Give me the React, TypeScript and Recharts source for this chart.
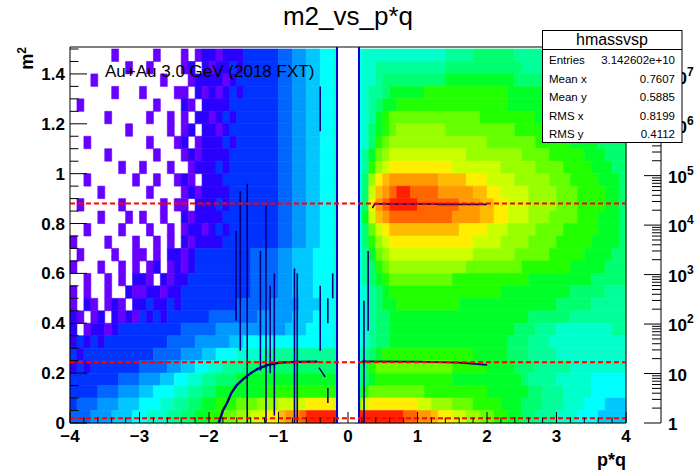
import { ComposedChart, XAxis, YAxis, ReferenceArea, ReferenceLine, Line } from "recharts";

const FONT = "'Liberation Sans', Arial, Helvetica, sans-serif";

const X_MIN = -4;
const X_MAX = 4;
const Y_MAX = 1.508;
const xBinWidth = 0.1;
const yBinWidth = 0.05;

// ROOT palette, 20 contours from low to high counts
const paletteColors = [
  "#6600ff", "#2a00ff", "#0033ff", "#0066ff", "#0099ff",
  "#00c8ff", "#00ffff", "#00ffcc", "#00ff99", "#00ff70",
  "#00ff28", "#22ff00", "#66ff00", "#99ff00", "#ccff00",
  "#ffee00", "#ffbb00", "#ff9900", "#ff6600", "#ff2200",
];
// contour edges (counts), log spaced
const zLevels = [
  1, 2.4, 5.75, 13.8, 33.1, 79.4, 190.5, 457, 1096, 2630, 6310,
  15140, 36310, 87100, 208900, 501200, 1202000, 2884000, 6918000, 16600000, 39810000,
];
const zDecades = [1, 10, 100, 1000, 10000, 100000, 1000000, 10000000];
const zTickLabels: [string, string][] = [
  ["1", ""], ["10", ""], ["10", "2"], ["10", "3"], ["10", "4"], ["10", "5"], ["10", "6"], ["10", "7"],
];

// contour index per bin (0.1 in p*q, 0.05 in m2), top row first
// '.' = empty, 0-9 then a-j = palette index
const binLevels = [
  "......0... ..0...0.01 1011122222 334455667. .677777777 7777888899 9999888888 8888888888",
  "........0. .0....01.1 0112122222 334455667. .677888888 8888999999 9999988888 8888888888",
  "...0...... ...0...011 1101222222 334455667. .677899999 9999aaaaaa aaaa999998 8888888888",
  "......0... 0....00.10 1012122222 334455667. .67889aaaa abbbbbbbbb bbbaaaaa99 9998888888",
  ".0........ ..0...10.1 1112222222 334455667. .6789aabbb bbbbbbbbbb bbbaaaaaa9 9999888888",
  ".....0.... .0..0.0.11 0121222222 334455667. .678abcccc cccccccccb bbbbbbbaaa aa99998888",
  "........0. ....0.01.1 1012222222 334455667. .679abcddd ddddcccccc ccccbbbbbb aaaa999988",
  "..0....... .0...01.01 1121222222 334455667. .679bcdddd dddddddddd cccccccbbb bbaaaa9999",
  ".....0.... ..0...0101 1112222222 334455667. .68acdeeee eeeeeeeddd dddddccccb bbbbaaa999",
  ".......0.. 0...0..011 1212222222 334455667. .68bdeffff fffffeeeee eedddddccc cbbbbaaa99",
  "..0......0 ..0..010.1 1122222222 334455667. .69dfghhhh hhhggggfff eeeedddddc ccbbbbaaa9",
  "....0..... .0....0101 1112222222 334455667. .69eghijji iiihhhhhgg ffeeeedddd cccbbbbaa9",
  ".0.....0.. ...0.00.11 1212222222 334455667. .69fhijjjj iiiiiihhhg gffeeedddd cccbbbbaa9",
  "....0...0. 0..0..1011 1122222222 334455667. .6aeghiiii iiiiihhhhg gffeeedddc cccbbbaaa9",
  "..0....0.. .0..0.0110 1212222222 334455667. .69cefgggg ggggggffff eeeddddccc cbbbbbaaa9",
  "0....0...0 ..0.0.1011 1122222222 334455667. .69bdeffff ffffffffee eeddddcccc bbbbbaaaa9",
  ".0....0..0 0.0.110122 2222223333 445556667. .68acdeeee eeeeeeeedd ddddcccccb bbbbaaaa99",
  "0...0..0.0 .01.010122 2222223333 445556667. .689bcdddd dddddddccc cccccbbbbb bbaaaaa999",
  "..0..0.0.1 10.1011222 2222223333 445556667. .689abcccc cccccbbbbb bbbbbbaaaa aaaaa99999",
  "0.0..0..10 0110112222 2222223333 445556667. .6789abbbb bbbbbbbbbb bbaaaaaaaa aa99999888",
  "0.10.010.1 1211212222 2222333334 444555667. .6789aabbb bbbbbbaaaa aaaaaaaaaa 9999988888",
  "10.01.1010 2121222222 3333333444 445556667. .67899aaaa aaaaaaaaaa aaaaaa9999 9988888888",
  "1.01101222 2222223333 3444444444 455566667. .67899aaaa aaaaaaaaaa aaaa999888 7777777788",
  "1212122222 2222333344 4445566666 666666667. .67899aaaa aaaaaaaaaa aaa9998887 7777777777",
  "2122222222 2233334445 5666777788 888888888. .789abbbbb bbbbbbbbaa aaa9998888 7777777777",
  "1212222222 3333445566 7788899999 999999999. .89bcccccc cccccbbbbb aaaa999888 8877777777",
  "2222222333 4445566778 8999aaaaaa aaaaaaaaa. .89abbbbbb bbbbbaaaaa aaaaa98888 7777766666",
  "2222333444 5566677889 9aaaaaaabb bbbbbbbbb. .9bccccccc cbbbbbbbbb aaaaaa9988 8777766666",
  "2333444555 666778899a abbbcccddd eeeeffffe. .cefffffff eedddcccbb bbaaa99988 8777666555",
  "3334445556 67778899aa bbccddeeff ghhijjjjj. .jjjjjjjii hhgffeeddc cbbaa99888 7776665555",
];

// no TOF coverage around p*q = 0
const emptyBand = [-0.155, 0.152];

// dark fit tracks drawn on the histogram: [p*q, m2 from, m2 to]
const navyTracks: [number, number, number][] = [
  [-1.61, 0.41, 0.77], [-1.55, 0.29, 0.93], [-1.45, 0.0, 0.96], [-1.26, 0.21, 0.69],
  [-1.18, 0.0, 0.87], [-1.12, 0.2, 0.55], [-1.06, 0.03, 0.6], [-0.77, 0.0, 0.62],
  [-0.73, 0.0, 0.6], [-0.4, 0.29, 0.55], [-0.4, 1.17, 1.35], [-0.29, 0.4, 0.5],
  [-0.29, 0.08, 0.14], [-0.22, 0.5, 0.6], [0.23, 0.0, 0.49], [0.29, 0.37, 0.69],
];
const gapEdges = [-0.158, 0.158];

const kaonLeft = [
  { x: -1.86, m2: 0.0 }, { x: -1.8, m2: 0.05 }, { x: -1.74, m2: 0.08 }, { x: -1.68, m2: 0.12 },
  { x: -1.6, m2: 0.152 }, { x: -1.5, m2: 0.178 }, { x: -1.4, m2: 0.2 }, { x: -1.3, m2: 0.217 },
  { x: -1.16, m2: 0.232 }, { x: -1.0, m2: 0.241 }, { x: -0.93, m2: 0.243 }, { x: -0.7, m2: 0.245 },
  { x: -0.44, m2: 0.246 },
];
const kaonArc = [{ x: -0.42, m2: 0.222 }, { x: -0.38, m2: 0.207 }, { x: -0.33, m2: 0.185 }];
const kaonRight = [{ x: 0.2, m2: 0.247 }, { x: 1.0, m2: 0.246 }, { x: 1.6, m2: 0.242 }, { x: 2.0, m2: 0.233 }];
const protonRight = [
  { x: 0.35, m2: 0.862 }, { x: 0.38, m2: 0.876 }, { x: 0.43, m2: 0.879 },
  { x: 1.25, m2: 0.879 }, { x: 1.3, m2: 0.877 }, { x: 2.0, m2: 0.877 },
];

// expected m2 of pi, K, p
const massLines = [0.0195, 0.2437, 0.8804];

const xMajorTicks = [-4, -3, -2, -1, 0, 1, 2, 3, 4];
const xTickLabels = ["\u22124", "\u22123", "\u22122", "\u22121", "0", "1", "2", "3", "4"];
const yMajorTicks = [0, 0.2, 0.4, 0.6, 0.8, 1, 1.2, 1.4];
const yTickLabels = ["0", "0.2", "0.4", "0.6", "0.8", "1", "1.2", "1.4"];

const statRows = [
  ["Entries", "3.142602e+10"],
  ["Mean x", "0.7607"],
  ["Mean y", "0.5885"],
  ["RMS x", "0.8199"],
  ["RMS y", "0.4112"],
];

const round3 = (v: number) => Math.round(v * 1000) / 1000;
const xTicks = Array.from({ length: 41 }, (_, k) => round3(X_MIN + k * 0.2));
const yTicks = Array.from({ length: 31 }, (_, k) => round3(k * 0.05));
const zTicks: number[] = [];
zDecades.forEach((d) => {
  for (let m = 1; m < 10; m++) if (d * m <= zLevels[zLevels.length - 1]) zTicks.push(d * m);
});

const LEVEL_CHARS = "0123456789abcdefghij";
type Cell = { x1: number; x2: number; y1: number; y2: number; color: string };
const cells: Cell[] = [];
binLevels.forEach((row, r) => {
  const s = row.replace(/ /g, "");
  const j = binLevels.length - 1 - r;
  const y1 = round3(j * yBinWidth);
  const y2 = Math.min(round3((j + 1) * yBinWidth), Y_MAX);
  let i = 0;
  while (i < s.length) {
    let k = i;
    while (k < s.length && s[k] === s[i]) k++;
    const lvl = LEVEL_CHARS.indexOf(s[i]);
    if (lvl >= 0) {
      cells.push({
        x1: round3(X_MIN + i * xBinWidth),
        x2: Math.min(round3(X_MIN + k * xBinWidth), X_MAX),
        y1,
        y2,
        color: paletteColors[lvl],
      });
    }
    i = k;
  }
});

const near = (a: number, b: number) => Math.abs(a - b) < 1e-6;

const XTick = ({ x, y, payload }: any) => {
  const idx = xMajorTicks.findIndex((t) => near(t, payload.value));
  return (
    <g>
      <line x1={x} x2={x} y1={y} y2={y - (idx >= 0 ? 11 : 5.5)} stroke="#000" strokeWidth={1} />
      {idx >= 0 && (
        <text x={x} y={y + 19} textAnchor="middle" fontFamily={FONT} fontWeight="bold" fontSize={17} fill="#000">
          {xTickLabels[idx]}
        </text>
      )}
    </g>
  );
};

const YTick = ({ x, y, payload }: any) => {
  const idx = yMajorTicks.findIndex((t) => near(t, payload.value));
  return (
    <g>
      <line x1={x} x2={x + (idx >= 0 ? 17 : 8.5)} y1={y} y2={y} stroke="#000" strokeWidth={1} />
      {idx >= 0 && (
        <text x={x - 5} y={y + 6} textAnchor="end" fontFamily={FONT} fontWeight="bold" fontSize={17} fill="#000">
          {yTickLabels[idx]}
        </text>
      )}
    </g>
  );
};

const ZTick = ({ x, y, payload }: any) => {
  const idx = zDecades.indexOf(payload.value);
  return (
    <g>
      <line x1={x} x2={x - (idx >= 0 ? 17 : 9)} y1={y} y2={y} stroke="#000" strokeWidth={1} />
      {idx >= 0 && (
        <text x={x + 7} y={y + 7} fontFamily={FONT} fontWeight="bold" fontSize={17} fill="#000">
          {zTickLabels[idx][0]}
          {zTickLabels[idx][1] && (
            <tspan dy={-8} fontSize={12}>
              {zTickLabels[idx][1]}
            </tspan>
          )}
        </text>
      )}
    </g>
  );
};

export default function App() {
  return (
    <div style={{ position: "absolute", left: 0, top: 0, width: 696, height: 472, background: "#fff" }}>
      <div style={{ position: "absolute", left: 0, top: 0 }}>
        <ComposedChart width={696} height={472} margin={{ top: 47, right: 70, bottom: 19, left: 0 }}>
          {cells.map((c, i) => (
            <ReferenceArea
              key={`cell-${i}`}
              x1={c.x1}
              x2={c.x2}
              y1={c.y1}
              y2={c.y2}
              fill={c.color}
              fillOpacity={1}
              stroke={c.color}
              strokeWidth={0.6}
              ifOverflow="visible"
            />
          ))}
          <ReferenceArea x1={emptyBand[0]} x2={emptyBand[1]} y1={0} y2={Y_MAX} fill="#fff" fillOpacity={1} ifOverflow="visible" />
          {gapEdges.map((g, i) => (
            <ReferenceLine key={`gap-${i}`} segment={[{ x: g, y: 0 }, { x: g, y: Y_MAX }]} stroke="#0000cc" strokeWidth={2} ifOverflow="visible" />
          ))}
          {navyTracks.map(([x, a, b], i) => (
            <ReferenceLine key={`trk-${i}`} segment={[{ x, y: a }, { x, y: b }]} stroke="#000080" strokeWidth={1.6} ifOverflow="visible" />
          ))}
          {[kaonLeft, kaonArc, kaonRight, protonRight].map((pts, i) => (
            <Line
              key={`fit-${i}`}
              data={pts}
              dataKey="m2"
              type="linear"
              stroke="#000080"
              strokeWidth={i === 0 ? 2.4 : 1.6}
              dot={false}
              isAnimationActive={false}
            />
          ))}
          {massLines.map((m, i) => (
            <ReferenceLine key={`mass-${i}`} y={m} stroke="#ff0000" strokeWidth={2} strokeDasharray="5 3" ifOverflow="visible" />
          ))}
          <ReferenceArea x1={X_MIN} x2={X_MAX} y1={0} y2={Y_MAX} fill="none" fillOpacity={0} stroke="#000" strokeWidth={1} ifOverflow="visible" />
          <XAxis
            dataKey="x"
            type="number"
            domain={[X_MIN, X_MAX]}
            allowDataOverflow
            ticks={xTicks}
            interval={0}
            height={30}
            tickSize={0}
            tickMargin={0}
            axisLine={false}
            tick={<XTick />}
          />
          <YAxis
            type="number"
            domain={[0, Y_MAX]}
            allowDataOverflow
            ticks={yTicks}
            interval={0}
            width={70}
            tickSize={0}
            tickMargin={0}
            axisLine={false}
            tick={<YTick />}
          />
        </ComposedChart>
      </div>
      <div style={{ position: "absolute", left: 0, top: 0 }}>
        <ComposedChart width={696} height={472} margin={{ top: 47, right: 0, bottom: 49, left: 628 }}>
          {paletteColors.map((col, k) => (
            <ReferenceArea
              key={`pal-${k}`}
              y1={zLevels[k]}
              y2={zLevels[k + 1]}
              fill={col}
              fillOpacity={1}
              stroke={col}
              strokeWidth={0.5}
              ifOverflow="visible"
            />
          ))}
          <XAxis type="number" domain={[0, 1]} hide />
          <YAxis
            orientation="right"
            type="number"
            scale="log"
            domain={[zLevels[0], zLevels[zLevels.length - 1]]}
            allowDataOverflow
            ticks={zTicks}
            interval={0}
            width={35}
            tickSize={0}
            tickMargin={0}
            axisLine={{ stroke: "#000" }}
            tick={<ZTick />}
          />
        </ComposedChart>
      </div>
      <svg width={696} height={472} style={{ position: "absolute", left: 0, top: 0, pointerEvents: "none" }}>
        <text x={348} y={25} textAnchor="middle" fontFamily={FONT} fontSize={26} fill="#000">
          m2_vs_p*q
        </text>
        <text x={105} y={77} fontFamily={FONT} fontSize={17} fill="#000">
          Au+Au 3.0 GeV (2018 FXT)
        </text>
        <text x={626} y={466} textAnchor="end" fontFamily={FONT} fontWeight="bold" fontSize={18} fill="#000">
          p*q
        </text>
        <text transform="translate(33,47) rotate(-90)" textAnchor="end" fontFamily={FONT} fontWeight="bold" fontSize={18} fill="#000">
          m<tspan dy={-7} fontSize={12}>2</tspan>
        </text>
        <rect x={542.5} y={30.5} width={139.5} height={112} fill="#fff" stroke="#000" strokeWidth={1} />
        <line x1={542.5} x2={682} y1={49.5} y2={49.5} stroke="#000" strokeWidth={1} />
        <text x={612} y={45} textAnchor="middle" fontFamily={FONT} fontSize={16} fill="#000">
          hmassvsp
        </text>
        {statRows.map(([k, v], i) => (
          <g key={k}>
            <text x={549} y={64 + i * 18.5} fontFamily={FONT} fontSize={11.5} fill="#000">
              {k}
            </text>
            <text x={675} y={64 + i * 18.5} textAnchor="end" fontFamily={FONT} fontSize={11.5} fill="#000">
              {v}
            </text>
          </g>
        ))}
      </svg>
    </div>
  );
}
